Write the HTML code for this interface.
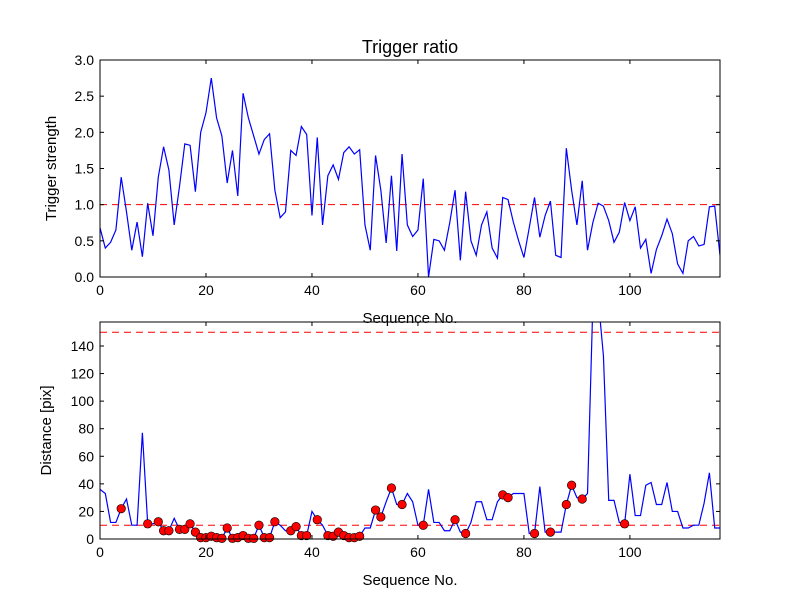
<!DOCTYPE html>
<html><head><meta charset="utf-8"><style>
html,body{margin:0;padding:0;background:#fff;}
svg text{font-family:"Liberation Sans","DejaVu Sans",sans-serif;}
</style></head><body>
<svg id="chart" width="800" height="600" xmlns="http://www.w3.org/2000/svg"></svg>
<script>
const ratio=[0.68,0.4,0.48,0.65,1.38,0.9,0.37,0.76,0.28,1.02,0.57,1.38,1.8,1.48,0.72,1.25,1.84,1.82,1.18,2.0,2.27,2.75,2.2,1.95,1.3,1.75,1.12,2.54,2.2,1.95,1.7,1.9,1.98,1.2,0.82,0.9,1.75,1.68,2.08,1.97,0.85,1.93,0.72,1.4,1.55,1.35,1.72,1.8,1.7,1.76,0.72,0.37,1.68,1.2,0.47,1.4,0.36,1.7,0.72,0.56,0.65,1.36,0.0,0.52,0.5,0.37,0.75,1.2,0.23,1.18,0.5,0.3,0.72,0.9,0.4,0.26,1.1,1.07,0.76,0.5,0.27,0.68,1.1,0.55,0.85,1.05,0.3,0.27,1.78,1.2,0.72,1.33,0.37,0.75,1.02,0.98,0.78,0.48,0.62,1.03,0.78,0.97,0.4,0.52,0.05,0.38,0.57,0.8,0.6,0.18,0.05,0.5,0.56,0.43,0.45,0.97,0.98,0.3];
const dist=[36,33,12,12,22,29,10,10,77,11,11,12.5,6,6,15,7,7,11,5,1,1,2,1,0.5,8,0.5,1,2.5,0.5,0.5,10,1,1,12.5,10,6,6,9,2.5,2.5,20,14,10,2.5,2,5,2.5,1,1,2,8,8,21,16,27,37,25,25,33,27,10,10,36,12,12,6,6,14,5,4,12,27,27,14,14,27,32,30,33,33,33,4,4,38,5,5,5,5,25,39,30,29,33,170,175,133,28,28,12,11,47,17,17,39,41,25,25,41,20,20,8,8,10,10,26,48,8,8];
const markerIdx=[4,9,11,12,13,15,16,17,18,19,20,21,22,23,24,25,26,27,28,29,30,31,32,33,36,37,38,39,41,43,44,45,46,47,48,49,52,53,55,57,61,67,69,76,77,82,85,88,89,91,99];
const xTicks=[0,20,40,60,80,100];
const yTicksTop=[0,0.5,1,1.5,2,2.5,3];
const yTicksBot=[0,20,40,60,80,100,120,140];
const thrTop=[1.0];
const thrBot=[10,150];

const svg=document.getElementById('chart');
const NS='http://www.w3.org/2000/svg';
function mk(tag,attrs,parent){const e=document.createElementNS(NS,tag);for(const k in attrs)e.setAttribute(k,attrs[k]);(parent||svg).appendChild(e);return e;}
const X0=100,X1=720,XMAX=117;
const sx=v=>X0+(X1-X0)*v/XMAX;

function panel(name,top,bot,ymax,data,yticks,fmt,thr,ylabel,markers){
  const g=mk('g',{});
  
  
  const sy=v=>bot-(bot-top)*v/ymax;
  const clipId=name+'-clip';
  const cp=mk('clipPath',{id:clipId},g);
  mk('rect',{x:X0,y:top,width:X1-X0,height:bot-top},cp);
  thr.forEach(t=>{
    const l=mk('line',{x1:X0,x2:X1,y1:sy(t),y2:sy(t),stroke:'#ff0000','stroke-width':1,'stroke-dasharray':'7,5','clip-path':'url(#'+clipId+')'},g);
    
    
  });
  const pts=data.map((v,i)=>sx(i).toFixed(2)+','+sy(v).toFixed(2)).join(' ');
  const pl=mk('polyline',{points:pts,fill:'none',stroke:'#0000ff','stroke-width':1.2,'clip-path':'url(#'+clipId+')'},g);
  
  
  if(markers){markers.forEach(i=>{
    const c=mk('circle',{cx:sx(i),cy:sy(data[i]),r:4.3,fill:'#ff0000',stroke:'#000','stroke-width':0.6},g);
    
    
  });}
  const fr=mk('rect',{x:X0,y:top,width:X1-X0,height:bot-top,fill:'none',stroke:'#000','stroke-width':1},g);
  
  
  xTicks.forEach(t=>{
    const x=sx(t);
    mk('line',{x1:x,x2:x,y1:bot,y2:bot-4,stroke:'#000'},g);
    mk('line',{x1:x,x2:x,y1:top,y2:top+4,stroke:'#000'},g);
    const tx=mk('text',{x:x,y:bot+18,'text-anchor':'middle','font-size':14},g);
    tx.textContent=t;
    
    
  });
  yticks.forEach(t=>{
    const y=sy(t);
    mk('line',{x1:X0,x2:X0+4,y1:y,y2:y,stroke:'#000'},g);
    mk('line',{x1:X1,x2:X1-4,y1:y,y2:y,stroke:'#000'},g);
    const tx=mk('text',{x:X0-6,y:y+5,'text-anchor':'end','font-size':14},g);
    tx.textContent=fmt(t);
    
    
  });
  const xl=mk('text',{x:410,y:bot+46,'text-anchor':'middle','font-size':15},g);
  xl.textContent='Sequence No.';
  
  
  const cy=(top+bot)/2;
  const yl=mk('text',{x:0,y:0,'text-anchor':'middle','font-size':15,transform:'translate('+(name==='top-panel'?56:51)+','+cy+') rotate(-90)'},g);
  yl.textContent=ylabel;
  
  
}
panel('top-panel',60,277,3,ratio,yTicksTop,t=>t.toFixed(1),thrTop,'Trigger strength',null);
panel('bottom-panel',322,539,157.4,dist,yTicksBot,t=>String(t),thrBot,'Distance [pix]',markerIdx);
const ti=mk('text',{x:410,y:53,'text-anchor':'middle','font-size':18});
ti.textContent='Trigger ratio';


</script>
</body></html>
